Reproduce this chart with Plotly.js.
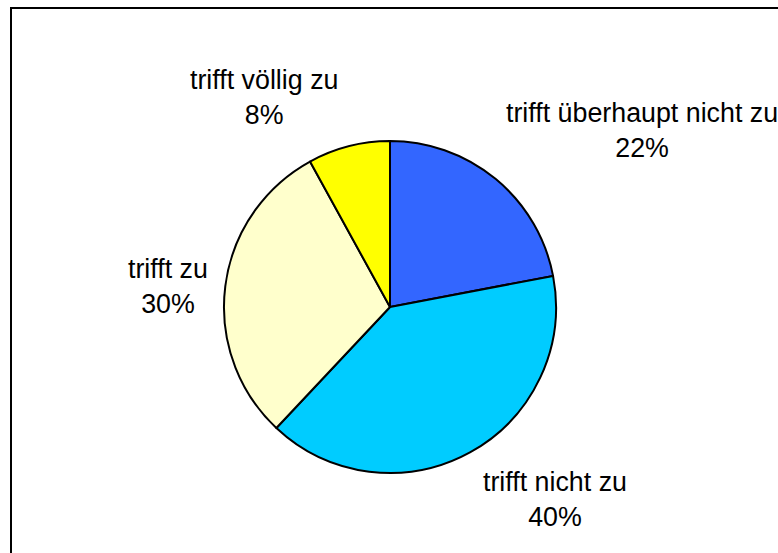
<!DOCTYPE html>
<html>
<head>
<meta charset="utf-8">
<script src="https://cdn.plot.ly/plotly-3.0.1.min.js"></script>
<style>
  html, body { margin: 0; padding: 0; background: #fff; }
  #chart { width: 778px; height: 553px; }
</style>
</head>
<body>
<div id="chart"></div>
<script>
// Data
const categories = ["trifft überhaupt nicht zu", "trifft nicht zu", "trifft zu", "trifft völlig zu"];
const values = [22, 40, 30, 8];
const colors = ["#3366FF", "#00CCFF", "#FFFFCC", "#FFFF00"];
// Label positions (paper pixels) for the Excel-style outside labels
const labelPosX = [642, 555, 168, 264];
const labelPosY = [130, 499, 286, 97];

const W = 778, H = 553;
const total = values.reduce((a, b) => a + b, 0);

const annotations = categories.map((c, i) => ({
  xref: "paper", yref: "paper",
  x: labelPosX[i] / W, y: 1 - labelPosY[i] / H,
  xanchor: "center", yanchor: "middle",
  text: c + "<br>" + Math.round(values[i] / total * 100) + "%",
  showarrow: false,
  font: { family: "Liberation Sans, Arial, sans-serif", size: 26.8, color: "#000" }
}));

const trace = {
  type: "pie",
  labels: categories,
  values: values,
  sort: false,
  direction: "clockwise",
  rotation: 0,
  textinfo: "none",
  hoverinfo: "none",
  marker: { colors: colors, line: { color: "#000", width: 2 } },
  domain: { x: [224 / W, 556 / W], y: [1 - 473 / H, 1 - 141 / H] },
  showlegend: false
};

const layout = {
  width: W, height: H,
  margin: { l: 0, r: 0, t: 0, b: 0 },
  paper_bgcolor: "#fff",
  showlegend: false,
  annotations: annotations,
  shapes: [{
    type: "rect", xref: "paper", yref: "paper",
    x0: 11 / W, x1: 1.05, y0: -0.05, y1: 1 - 8 / H,
    line: { color: "#000", width: 2 }, fillcolor: "rgba(0,0,0,0)"
  }]
};

Plotly.newPlot("chart", [trace], layout, { displayModeBar: false, staticPlot: true });
</script>
</body>
</html>
